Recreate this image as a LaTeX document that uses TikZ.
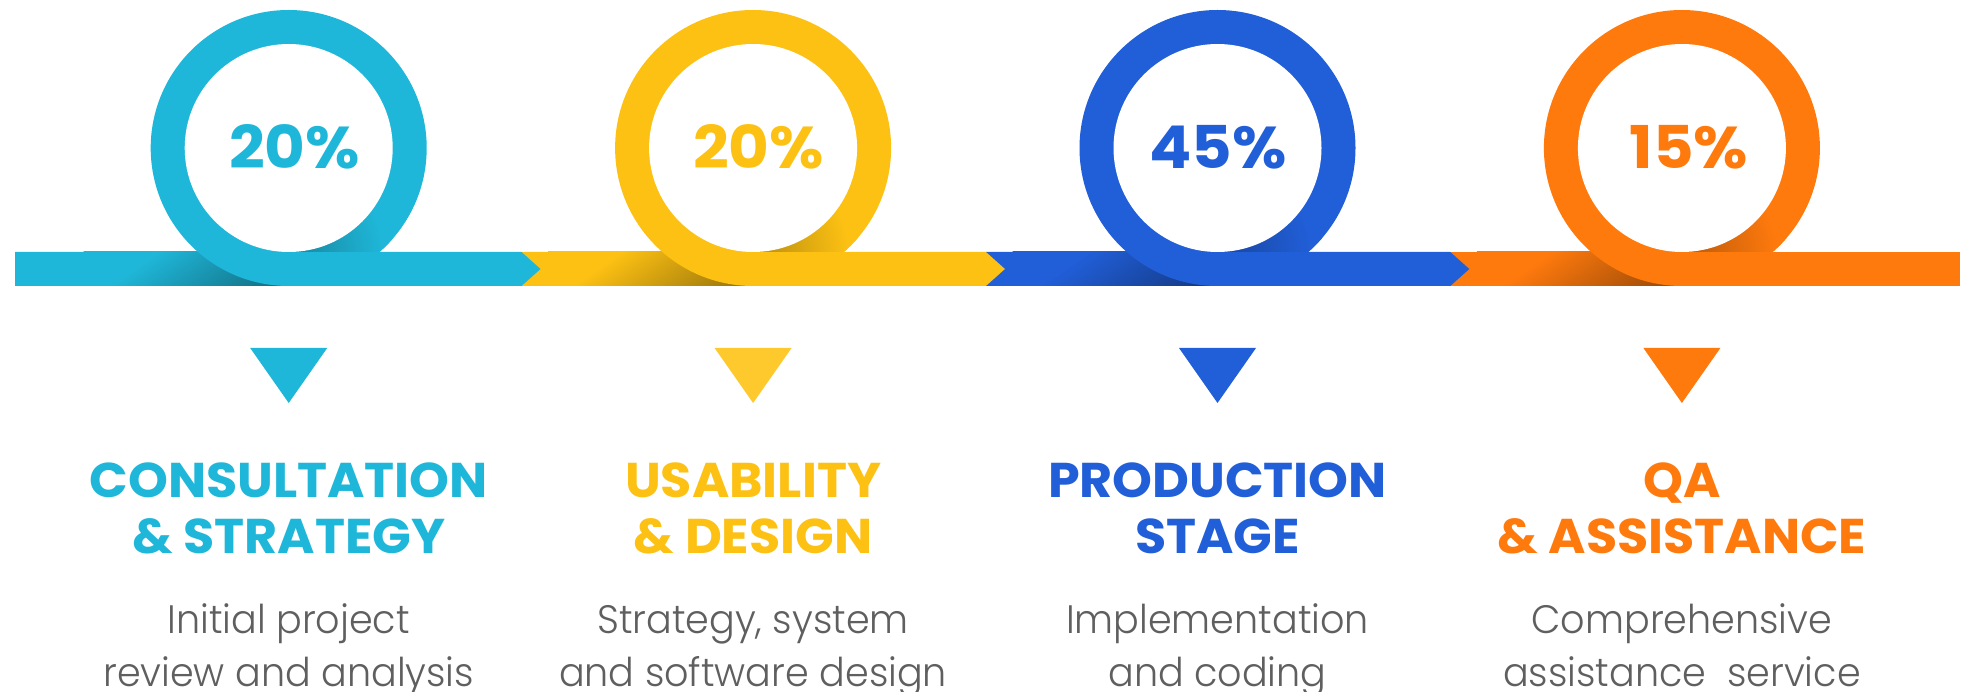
\documentclass[tikz,border=0pt]{standalone}
\usepackage{fontspec}
\newfontfamily\headfont{Poppins Bold}[FakeStretch=1.04]
\newfontfamily\pctfont{Poppins Bold}[FakeStretch=1.06]
\newfontfamily\descfont{Poppins Light}[FakeStretch=0.96]
\definecolor{cA}{HTML}{1FB7D9}
\definecolor{cB}{HTML}{FDC113}
\definecolor{cC}{HTML}{215FD9}
\definecolor{cD}{HTML}{FF7A0D}
\definecolor{triB}{HTML}{FDC92C}
\definecolor{txtgray}{HTML}{5F5F5F}
\newcommand\mkshade[1]{%
  \pgfdeclarehorizontalshading{bar#1}{400bp}{color(0bp)=(#1); color(135bp)=(#1); color(228bp)=(#1!62!black); color(300bp)=(#1!62!black)}%
  \pgfdeclareradialshading{ring#1}{\pgfpoint{0bp}{0bp}}{color(0bp)=(#1!74!black); color(90bp)=(#1); color(100bp)=(#1)}%
}
\mkshade{cA}\mkshade{cB}\mkshade{cC}\mkshade{cD}
\tikzset{
  pct/.style={font=\pctfont\fontsize{59}{60}\selectfont, anchor=base, inner sep=0pt},
  head/.style={font=\headfont\fontsize{48.8}{50}\selectfont, anchor=base, inner sep=0pt},
  desc/.style={font=\descfont\fontsize{39.7}{40}\selectfont, anchor=base, inner sep=0pt, text=txtgray},
  shadenode/.style={inner sep=0pt, outer sep=0pt},
}
\newcommand\drawstage[8]{%
  \begin{scope}
    \clip (#2-205,252) rectangle (#2,286);
    \node[shadenode, rotate=-55] (bs#8) at (#2-60.9,220.5) {\pgfuseshading{bar#1}};
  \end{scope}
  \fill[#1] (#2,148) circle[radius=138];
  \begin{scope}
    \clip (#2,148) circle[radius=138];
    \clip (#2,140) rectangle (#2+140,252);
    \node[shadenode] (rs#8) at (#2+5,252) {\pgfuseshading{ring#1}};
  \end{scope}
  \fill[white] (#2,148) circle[radius=104];
  \fill[#7] (#2-38.5,348) -- (#2+38.5,348) -- (#2,403) -- cycle;
  \node[head, text=#1] (h#8a) at (#2,497) {#3};
  \node[head, text=#1] (h#8b) at (#2,553) {#4};
  \node[desc] (d#8a) at (#2,633) {#5};
  \node[desc] (d#8b) at (#2,686) {#6};
}
\begin{document}
\begin{tikzpicture}[x=1pt,y=-1pt]
\useasboundingbox[fill=white] (0,0) rectangle (1968,692);
% bars, right to left so each chevron lies on the next bar
\fill[cD] (1450.3,252) -- (1960,252) -- (1960,286) -- (1450.3,286) -- cycle;
\fill[cC] (985.9,252) -- (1450.3,252) -- (1469.3,269) -- (1450.3,286) -- (985.9,286) -- cycle;
\fill[cB] (521.5,252) -- (985.9,252) -- (1004.9,269) -- (985.9,286) -- (521.5,286) -- cycle;
\fill[cA] (15,252) -- (521.5,252) -- (540.5,269) -- (521.5,286) -- (15,286) -- cycle;
\drawstage{cA}{288.7}{CONSULTATION}{\& STRATEGY}{Initial project}{review and analysis}{cA}{1}
\drawstage{cB}{753.1}{USABILITY}{\& DESIGN}{Strategy, system}{and software design}{triB}{2}
\drawstage{cC}{1217.5}{PRODUCTION}{STAGE}{Implementation}{and coding}{cC}{3}
\drawstage{cD}{1681.9}{QA}{\& ASSISTANCE}{Comprehensive}{assistance\ \ service}{cD}{4}
\node[pct, text=cA] (p1) at (294.5,169) {20\%};
\node[pct, text=cB] (p2) at (758.5,169) {20\%};
\node[pct, text=cC] (p3) at (1218,169) {45\%};
\node[pct, text=cD] (p4) at (1689,169) {15\%};
\end{tikzpicture}
\end{document}
